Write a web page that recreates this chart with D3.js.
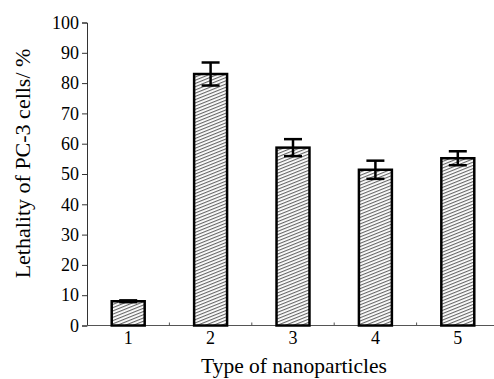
<!DOCTYPE html>
<html>
<head>
<meta charset="utf-8">
<script src="https://cdn.jsdelivr.net/npm/d3@7/dist/d3.min.js"></script>
<style>
	body { margin: 0; background: #fff; }
	svg { display: block; }
</style>
</head>
<body>
<div id="chart"></div>
<script>
const categories = ['1', '2', '3', '4', '5'];
const lethality = [8.0, 83.0, 58.7, 51.4, 55.2];
const errors = [0.3, 3.8, 2.8, 3.0, 2.3];
const yTicks = [0, 10, 20, 30, 40, 50, 60, 70, 80, 90, 100];

const width = 494;
const height = 379;
const plotLeft = 87;
const plotTop = 22.5;
const plotBottom = 325.5;

const svg = d3.select('#chart')
	.append('svg')
	.attr('width', width)
	.attr('height', height)

const defs = svg.append('defs');
const pattern = defs.append('pattern')
	.attr('id', 'hatch')
	.attr('patternUnits', 'userSpaceOnUse')
	.attr('width', 3)
	.attr('height', 3)
	.attr('patternTransform', 'rotate(-22)');
pattern.append('rect')
	.attr('width', 3)
	.attr('height', 3)
	.attr('fill', '#fff');
pattern.append('line')
	.attr('x1', 0).attr('x2', 3)
	.attr('y1', 0.6).attr('y2', 0.6)
	.attr('stroke', '#555')
	.attr('stroke-width', 1);

const xScale = d3.scaleBand()
	.domain(categories)
	.range([plotLeft, 499]);

const yScale = d3.scaleLinear()
	.domain([0, 100])
	.range([plotBottom, plotTop]);

const barWidth = xScale.bandwidth() * 0.4;

// y axis
const yAxis = svg.append('g')
	.attr('transform', `translate(${plotLeft},0)`)
	.call(d3.axisLeft(yScale).tickValues(yTicks).tickSize(5).tickPadding(3));
yAxis.select('.domain').attr('stroke', '#333');
yAxis.selectAll('.tick line').attr('stroke', '#333');
yAxis.selectAll('text')
	.attr('font-family', 'Liberation Serif')
	.attr('font-size', 18)
	.attr('fill', '#000');

// x axis
svg.append('line')
	.attr('x1', plotLeft).attr('x2', width)
	.attr('y1', plotBottom).attr('y2', plotBottom)
	.attr('stroke', '#555')
	.attr('stroke-width', 1.2);

svg.append('g')
	.selectAll('line')
	.data(categories.slice(1))
	.enter()
	.append('line')
	.attr('x1', d => xScale(d))
	.attr('x2', d => xScale(d))
	.attr('y1', plotBottom)
	.attr('y2', plotBottom - 3)
	.attr('stroke', '#555');

svg.append('g')
	.selectAll('text')
	.data(categories)
	.enter()
	.append('text')
	.attr('x', d => xScale(d) + xScale.bandwidth() / 2)
	.attr('y', 344)
	.attr('text-anchor', 'middle')
	.attr('font-family', 'Liberation Serif')
	.attr('font-size', 18)
	.text(d => d);

// bars
const groups = svg.append('g')
	.selectAll('g')
	.data(categories.map((c, i) => [c, lethality[i], errors[i]]))
	.enter()
	.append('g');

groups.append('rect')
	.attr('x', d => xScale(d[0]) + (xScale.bandwidth() - barWidth) / 2)
	.attr('y', d => yScale(d[1]))
	.attr('width', barWidth)
	.attr('height', d => plotBottom - yScale(d[1]))
	.attr('fill', 'url(#hatch)')
	.attr('stroke', '#000')
	.attr('stroke-width', 2.5);

const cx = d => xScale(d[0]) + xScale.bandwidth() / 2;
groups.append('line')
	.attr('x1', cx).attr('x2', cx)
	.attr('y1', d => yScale(d[1] - d[2]))
	.attr('y2', d => yScale(d[1] + d[2]))
	.attr('stroke', '#000')
	.attr('stroke-width', 2.5);
groups.append('line')
	.attr('x1', d => cx(d) - 9).attr('x2', d => cx(d) + 9)
	.attr('y1', d => yScale(d[1] + d[2]))
	.attr('y2', d => yScale(d[1] + d[2]))
	.attr('stroke', '#000')
	.attr('stroke-width', 2.5);
groups.append('line')
	.attr('x1', d => cx(d) - 9).attr('x2', d => cx(d) + 9)
	.attr('y1', d => yScale(d[1] - d[2]))
	.attr('y2', d => yScale(d[1] - d[2]))
	.attr('stroke', '#000')
	.attr('stroke-width', 2.5);

// axis titles
svg.append('text')
	.attr('transform', 'translate(30,163.5) rotate(-90)')
	.attr('text-anchor', 'middle')
	.attr('font-family', 'Liberation Serif')
	.attr('font-size', 22)
	.text('Lethality of PC-3 cells/ %');

svg.append('text')
	.attr('x', 294)
	.attr('y', 373)
	.attr('text-anchor', 'middle')
	.attr('font-family', 'Liberation Serif')
	.attr('font-size', 21.5)
	.text('Type of nanoparticles');
</script>
</body>
</html>
